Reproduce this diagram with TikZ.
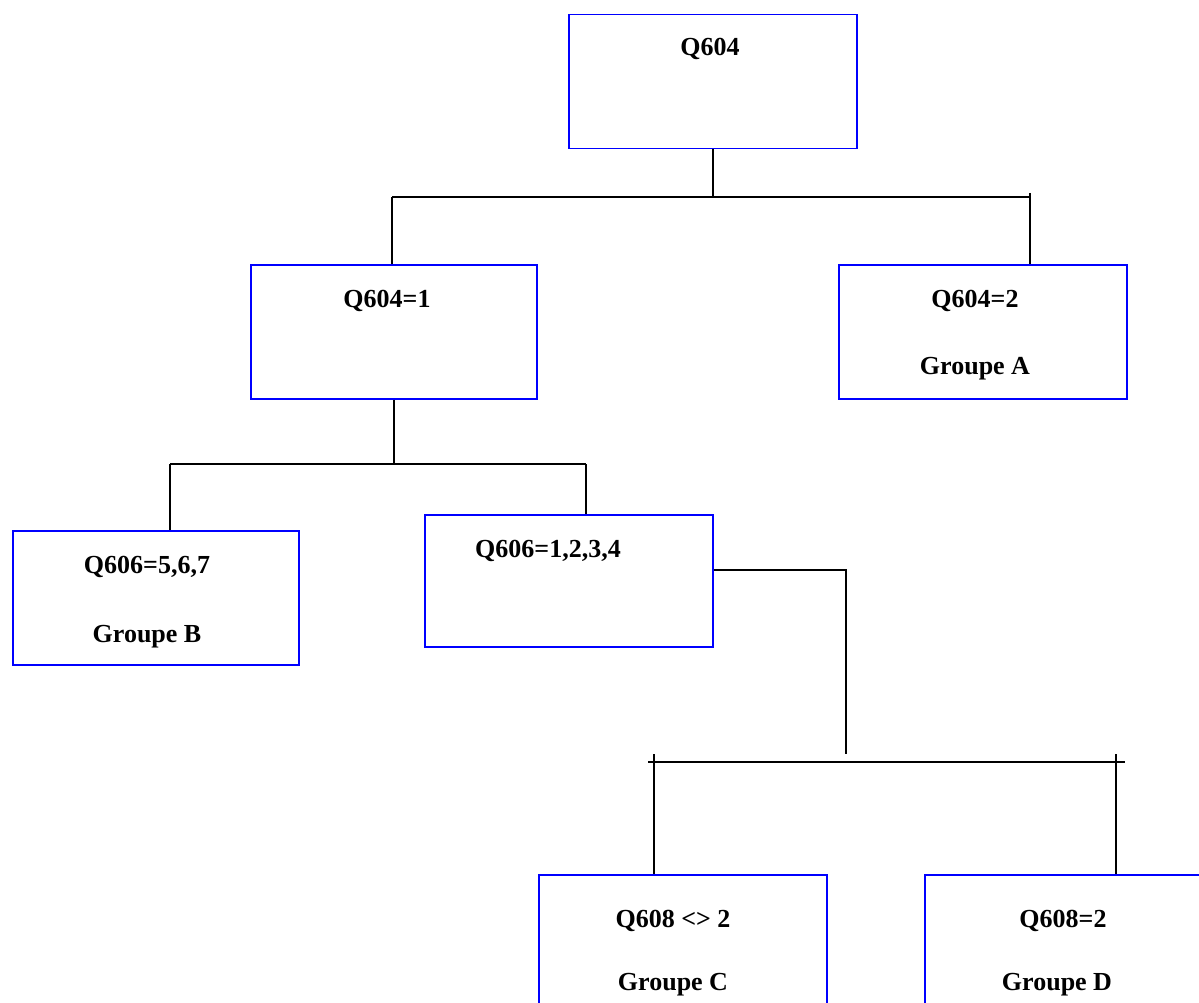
\documentclass[tikz,border=0pt]{standalone}
\usepackage{fontspec}
\setmainfont{Liberation Serif}
\usetikzlibrary{positioning,calc}
\definecolor{boxblue}{RGB}{0,0,255}
\tikzset{
  box/.style={draw=boxblue,line width=1.5pt,minimum width=288pt,minimum height=134pt,
    inner sep=0pt,anchor=north west},
  lbl/.style={font=\fontsize{26}{30}\selectfont\bfseries,inner sep=0pt,anchor=base},
  link/.style={draw=black,line width=1.5pt},
}

\begin{document}
\begin{tikzpicture}[x=1pt,y=-1pt]
  \useasboundingbox (0,0) rectangle (1199,1003);
  % boxes
  \node[box] (root) at (568,14) {};
  \node[box,minimum width=286pt] (q1) at (250,264) {};
  \node[box] (q2) at (838,264) {};
  \node[box,minimum width=286pt] (gb) at (12,530) {};
  \node[box,minimum height=132pt] (q6) at (424,514) {};
  \node[box,minimum height=160pt] (gc) at (538,874) {};
  \node[box,minimum height=160pt] (gd) at (924,874) {};
  % texts
  \node[lbl] (troot) at (710,56) {Q604};
  \node[lbl] (tq1) at (387,307) {Q604=1};
  \node[lbl] (tq2) at (975,307) {Q604=2};
  \node[lbl] (tga) at (975,374) {Groupe A};
  \node[lbl] (tq6b) at (147,573) {Q606=5,6,7};
  \node[lbl] (tgb) at (147,642) {Groupe B};
  \node[lbl] (tq6) at (548,557) {Q606=1,2,3,4};
  \node[lbl] (tq8c) at (673,927) {Q608 <> 2};
  \node[lbl] (tgc) at (673,990) {Groupe C};
  \node[lbl] (tq8d) at (1063,927) {Q608=2};
  \node[lbl] (tgd) at (1057,990) {Groupe D};
  % connectors
  \coordinate (j1l) at (392,197);
  \coordinate (j1r) at (1030,197);
  \draw[link] (root.south) -- (root.south |- j1l);
  \draw[link] (j1l) -- (j1r);
  \draw[link] (j1l) -- (j1l |- q1.north);
  \draw[link] ([yshift=4pt]j1r) -- (j1r |- q2.north);
  \coordinate (j2l) at (170,464);
  \coordinate (j2r) at (586,464);
  \draw[link] (q1.south) -- (q1.south |- j2l);
  \draw[link] (j2l) -- (j2r);
  \draw[link] (j2l) -- (j2l |- gb.north);
  \draw[link] (j2r) -- (j2r |- q6.north);
  \coordinate (j3) at (846,570);
  \coordinate (j3b) at (846,754);
  \draw[link] (q6.east |- j3) -- (j3) -- (j3b);
  \coordinate (j4l) at (648,762);
  \coordinate (j4r) at (1125,762);
  \draw[link] (j4l) -- (j4r);
  \draw[link] (654,754) -- (654,754 |- gc.north);
  \draw[link] (1116,754) -- (1116,754 |- gd.north);
\end{tikzpicture}
\end{document}
